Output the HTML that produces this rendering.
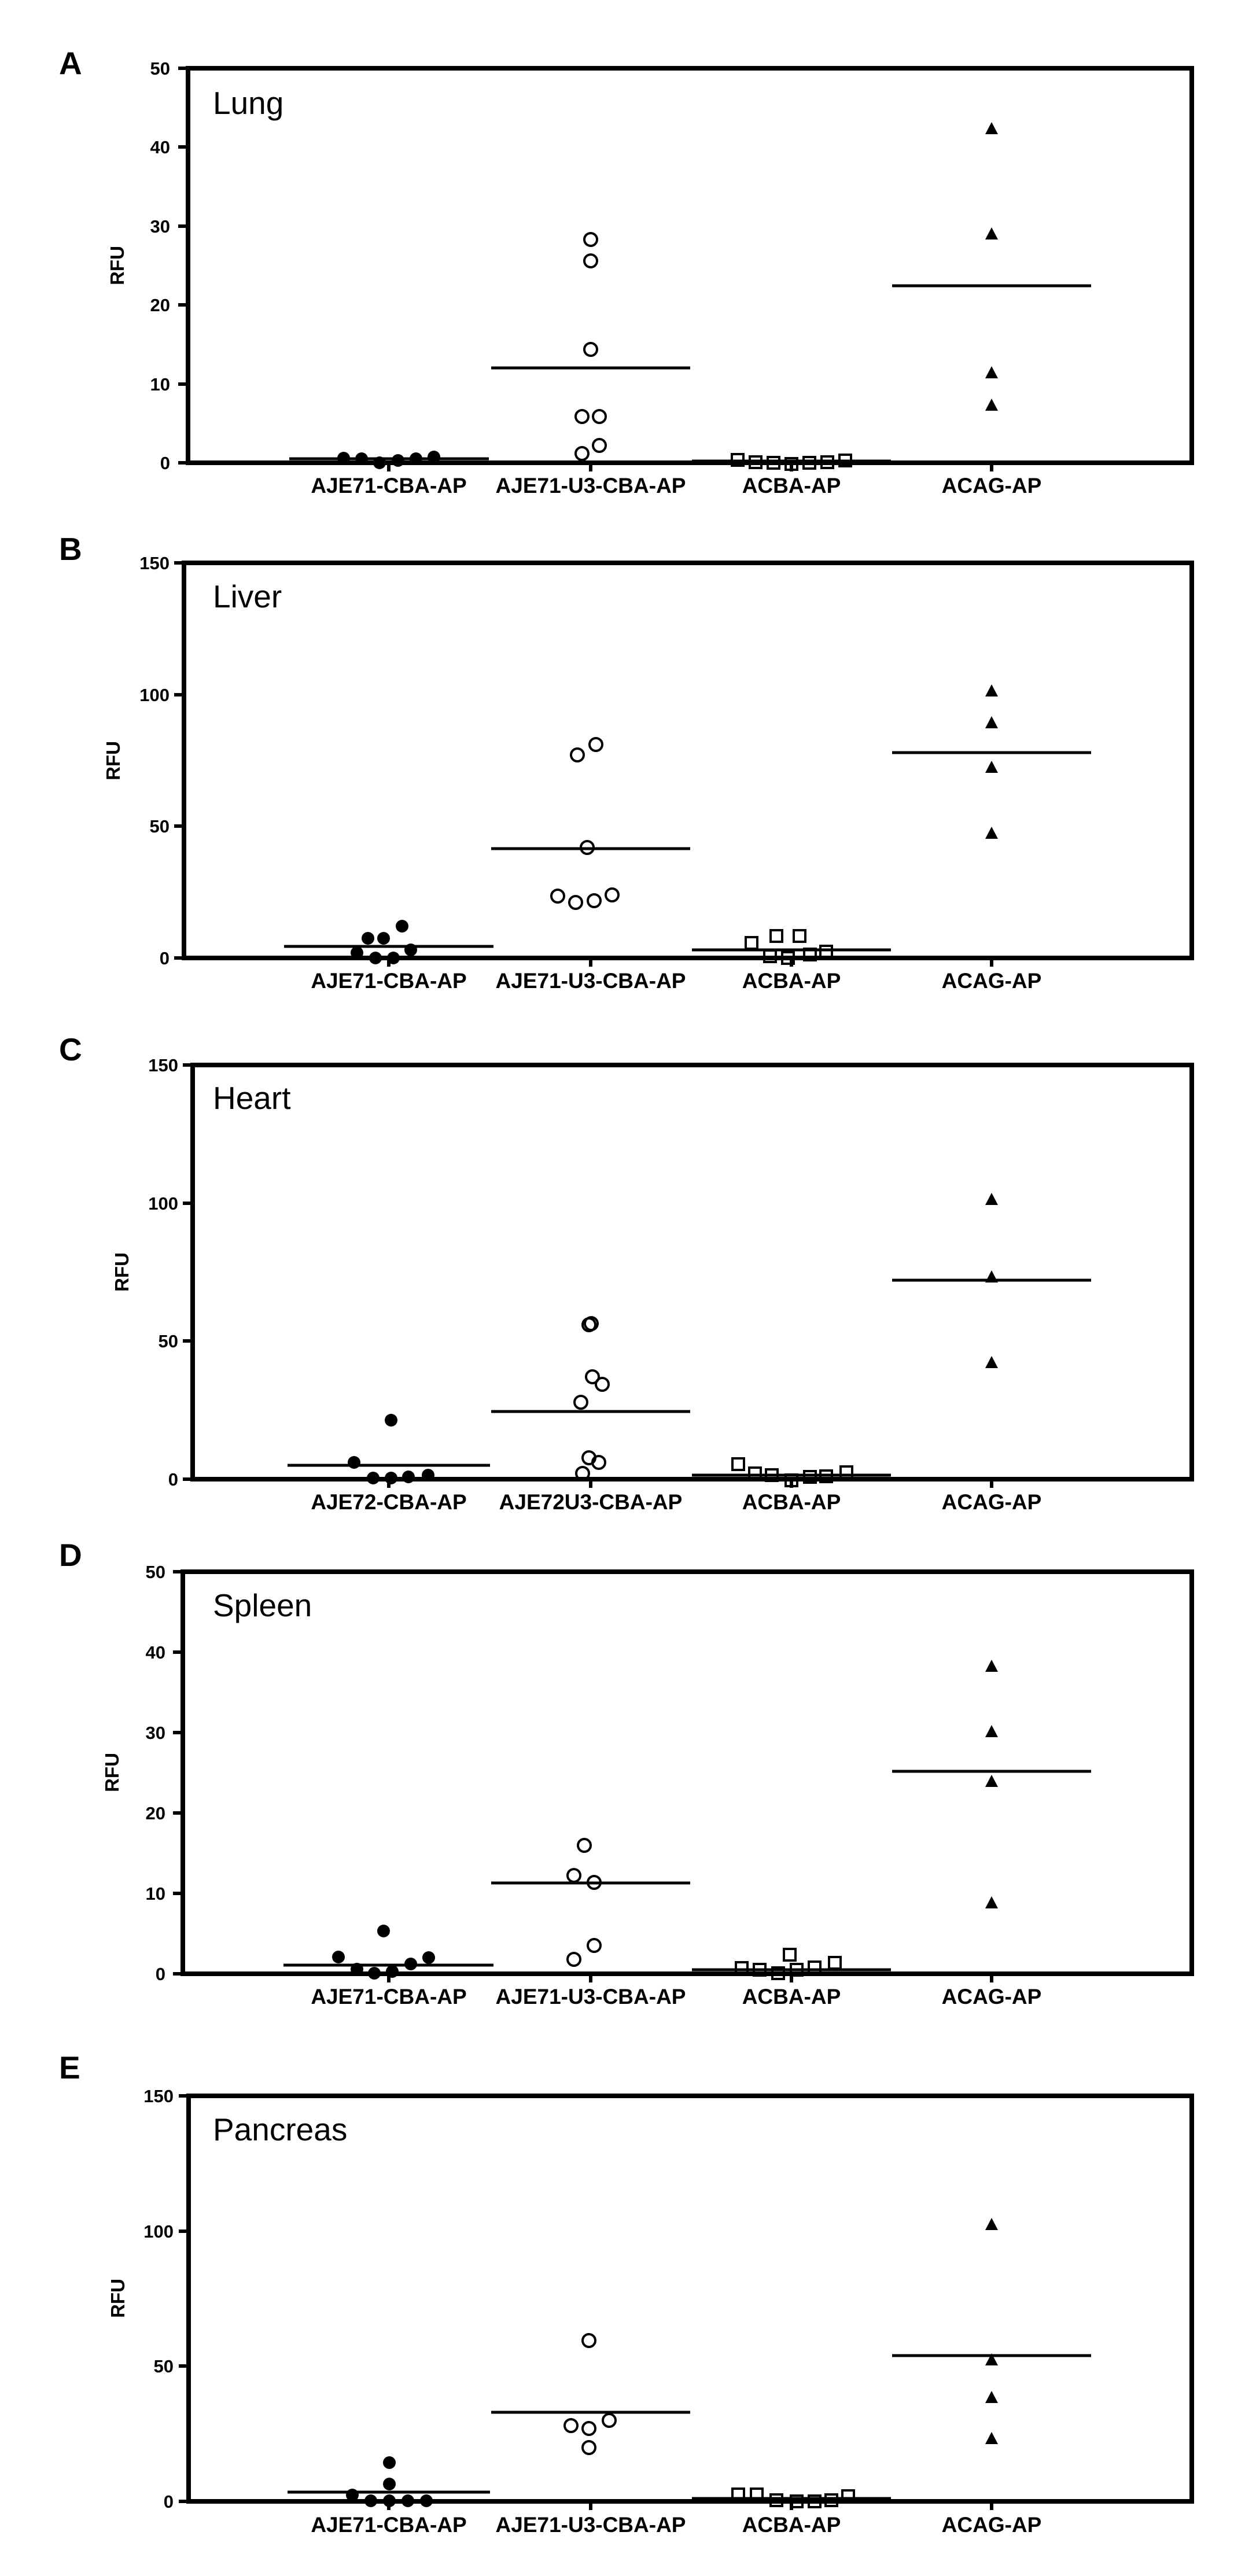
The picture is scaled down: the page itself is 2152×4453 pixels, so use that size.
<!DOCTYPE html>
<html><head><meta charset="utf-8"><style>html,body{margin:0;padding:0;background:#fff}svg{display:block}</style></head>
<body>
<svg width="2152" height="4453" viewBox="0 0 2152 4453" xmlns="http://www.w3.org/2000/svg" font-family="Liberation Sans, Arial, sans-serif">
<defs>
<circle id="f" r="11" fill="#000"/>
<circle id="o" r="11" fill="none" stroke="#000" stroke-width="4"/>
<rect id="s" x="-10" y="-10" width="20" height="20" fill="none" stroke="#000" stroke-width="4"/>
<path id="t" d="M0,-13 L11,8 L-11,8Z" fill="#000"/>
</defs>
<rect width="2152" height="4453" fill="#fff"/>

<!-- ===== PANEL A ===== -->
<g>
<text x="102" y="128" font-size="55" font-weight="bold">A</text>
<rect x="325" y="118" width="1735" height="682" fill="none" stroke="#000" stroke-width="8"/>
<g stroke="#000" stroke-width="6">
<line x1="308" y1="800" x2="325" y2="800"/><line x1="308" y1="664" x2="325" y2="664"/><line x1="308" y1="527" x2="325" y2="527"/><line x1="308" y1="391" x2="325" y2="391"/><line x1="308" y1="254" x2="325" y2="254"/><line x1="308" y1="118" x2="325" y2="118"/>
<line x1="672" y1="800" x2="672" y2="815"/><line x1="1021" y1="800" x2="1021" y2="815"/><line x1="1368" y1="800" x2="1368" y2="815"/><line x1="1714" y1="800" x2="1714" y2="815"/>
</g>
<g font-size="31" font-weight="bold" text-anchor="end">
<text x="294" y="811">0</text><text x="294" y="675">10</text><text x="294" y="538">20</text><text x="294" y="402">30</text><text x="294" y="265">40</text><text x="294" y="129">50</text>
</g>
<text transform="translate(214,459) rotate(-90)" font-size="33" font-weight="bold" text-anchor="middle">RFU</text>
<text x="368" y="197" font-size="55">Lung</text>
<g font-size="37" font-weight="bold" text-anchor="middle">
<text x="672" y="852">AJE71-CBA-AP</text><text x="1021" y="852">AJE71-U3-CBA-AP</text><text x="1368" y="852">ACBA-AP</text><text x="1714" y="852">ACAG-AP</text>
</g>
<g stroke="#000" stroke-width="5">
<line x1="500" y1="793" x2="845" y2="793"/><line x1="849" y1="636" x2="1193" y2="636"/><line x1="1196" y1="797" x2="1540" y2="797"/><line x1="1542" y1="494" x2="1886" y2="494"/>
</g>
<use href="#f" x="594" y="792"/><use href="#f" x="625" y="793"/><use href="#f" x="656" y="800"/><use href="#f" x="688" y="796"/><use href="#f" x="719" y="793"/><use href="#f" x="750" y="790"/>
<use href="#o" x="1021" y="414"/><use href="#o" x="1021" y="451"/><use href="#o" x="1021" y="604"/><use href="#o" x="1006" y="720"/><use href="#o" x="1036" y="720"/><use href="#o" x="1006" y="784"/><use href="#o" x="1036" y="770"/>
<use href="#s" x="1275" y="795"/><use href="#s" x="1306" y="799"/><use href="#s" x="1337" y="800"/><use href="#s" x="1368" y="802"/><use href="#s" x="1399" y="800"/><use href="#s" x="1430" y="799"/><use href="#s" x="1461" y="796"/>
<use href="#t" x="1714" y="224"/><use href="#t" x="1714" y="406"/><use href="#t" x="1714" y="646"/><use href="#t" x="1714" y="702"/>
</g>

<!-- ===== PANEL B ===== -->
<g>
<text x="102" y="968" font-size="55" font-weight="bold">B</text>
<rect x="318" y="973" width="1742" height="683" fill="none" stroke="#000" stroke-width="8"/>
<g stroke="#000" stroke-width="6">
<line x1="301" y1="1656" x2="318" y2="1656"/><line x1="301" y1="1428" x2="318" y2="1428"/><line x1="301" y1="1201" x2="318" y2="1201"/><line x1="301" y1="973" x2="318" y2="973"/>
<line x1="672" y1="1656" x2="672" y2="1671"/><line x1="1021" y1="1656" x2="1021" y2="1671"/><line x1="1368" y1="1656" x2="1368" y2="1671"/><line x1="1714" y1="1656" x2="1714" y2="1671"/>
</g>
<g font-size="31" font-weight="bold" text-anchor="end">
<text x="293" y="1667">0</text><text x="293" y="1439">50</text><text x="293" y="1212">100</text><text x="293" y="984">150</text>
</g>
<text transform="translate(207,1315) rotate(-90)" font-size="33" font-weight="bold" text-anchor="middle">RFU</text>
<text x="368" y="1050" font-size="55">Liver</text>
<g font-size="37" font-weight="bold" text-anchor="middle">
<text x="672" y="1708">AJE71-CBA-AP</text><text x="1021" y="1708">AJE71-U3-CBA-AP</text><text x="1368" y="1708">ACBA-AP</text><text x="1714" y="1708">ACAG-AP</text>
</g>
<g stroke="#000" stroke-width="5">
<line x1="491" y1="1636" x2="853" y2="1636"/><line x1="849" y1="1467" x2="1193" y2="1467"/><line x1="1196" y1="1642" x2="1540" y2="1642"/><line x1="1542" y1="1301" x2="1886" y2="1301"/>
</g>
<use href="#f" x="617" y="1647"/><use href="#f" x="636" y="1622"/><use href="#f" x="649" y="1656"/><use href="#f" x="663" y="1622"/><use href="#f" x="680" y="1656"/><use href="#f" x="695" y="1601"/><use href="#f" x="710" y="1642"/>
<use href="#o" x="964" y="1549"/><use href="#o" x="995" y="1560"/><use href="#o" x="1027" y="1557"/><use href="#o" x="1058" y="1547"/><use href="#o" x="1015" y="1465"/><use href="#o" x="998" y="1305"/><use href="#o" x="1030" y="1287"/>
<use href="#s" x="1299" y="1630"/><use href="#s" x="1342" y="1618"/><use href="#s" x="1382" y="1618"/><use href="#s" x="1331" y="1653"/><use href="#s" x="1362" y="1656"/><use href="#s" x="1400" y="1650"/><use href="#s" x="1428" y="1645"/>
<use href="#t" x="1714" y="1196"/><use href="#t" x="1714" y="1251"/><use href="#t" x="1714" y="1328"/><use href="#t" x="1714" y="1442"/>
</g>

<!-- ===== PANEL C ===== -->
<g>
<text x="102" y="1833" font-size="55" font-weight="bold">C</text>
<rect x="333" y="1841" width="1727" height="716" fill="none" stroke="#000" stroke-width="8"/>
<g stroke="#000" stroke-width="6">
<line x1="316" y1="2557" x2="333" y2="2557"/><line x1="316" y1="2318" x2="333" y2="2318"/><line x1="316" y1="2080" x2="333" y2="2080"/><line x1="316" y1="1841" x2="333" y2="1841"/>
<line x1="672" y1="2557" x2="672" y2="2572"/><line x1="1021" y1="2557" x2="1021" y2="2572"/><line x1="1368" y1="2557" x2="1368" y2="2572"/><line x1="1714" y1="2557" x2="1714" y2="2572"/>
</g>
<g font-size="31" font-weight="bold" text-anchor="end">
<text x="308" y="2568">0</text><text x="308" y="2329">50</text><text x="308" y="2091">100</text><text x="308" y="1852">150</text>
</g>
<text transform="translate(222,2199) rotate(-90)" font-size="33" font-weight="bold" text-anchor="middle">RFU</text>
<text x="368" y="1917" font-size="55">Heart</text>
<g font-size="37" font-weight="bold" text-anchor="middle">
<text x="672" y="2609">AJE72-CBA-AP</text><text x="1021" y="2609">AJE72U3-CBA-AP</text><text x="1368" y="2609">ACBA-AP</text><text x="1714" y="2609">ACAG-AP</text>
</g>
<g stroke="#000" stroke-width="5">
<line x1="497" y1="2533" x2="847" y2="2533"/><line x1="849" y1="2440" x2="1193" y2="2440"/><line x1="1196" y1="2550" x2="1540" y2="2550"/><line x1="1542" y1="2213" x2="1886" y2="2213"/>
</g>
<use href="#f" x="612" y="2528"/><use href="#f" x="645" y="2555"/><use href="#f" x="676" y="2455"/><use href="#f" x="676" y="2555"/><use href="#f" x="706" y="2553"/><use href="#f" x="740" y="2550"/>
<use href="#o" x="1018" y="2290"/><use href="#o" x="1022" y="2288"/><use href="#o" x="1024" y="2380"/><use href="#o" x="1041" y="2393"/><use href="#o" x="1004" y="2424"/><use href="#o" x="1018" y="2520"/><use href="#o" x="1035" y="2528"/><use href="#o" x="1007" y="2547"/>
<use href="#s" x="1276" y="2531"/><use href="#s" x="1305" y="2547"/><use href="#s" x="1334" y="2550"/><use href="#s" x="1368" y="2559"/><use href="#s" x="1400" y="2553"/><use href="#s" x="1428" y="2552"/><use href="#s" x="1463" y="2545"/>
<use href="#t" x="1714" y="2075"/><use href="#t" x="1714" y="2209"/><use href="#t" x="1714" y="2357"/>
</g>

<!-- ===== PANEL D ===== -->
<g>
<text x="102" y="2707" font-size="55" font-weight="bold">D</text>
<rect x="316" y="2717" width="1744" height="695" fill="none" stroke="#000" stroke-width="8"/>
<g stroke="#000" stroke-width="6">
<line x1="299" y1="3412" x2="316" y2="3412"/><line x1="299" y1="3273" x2="316" y2="3273"/><line x1="299" y1="3134" x2="316" y2="3134"/><line x1="299" y1="2995" x2="316" y2="2995"/><line x1="299" y1="2856" x2="316" y2="2856"/><line x1="299" y1="2717" x2="316" y2="2717"/>
<line x1="672" y1="3412" x2="672" y2="3427"/><line x1="1021" y1="3412" x2="1021" y2="3427"/><line x1="1368" y1="3412" x2="1368" y2="3427"/><line x1="1714" y1="3412" x2="1714" y2="3427"/>
</g>
<g font-size="31" font-weight="bold" text-anchor="end">
<text x="286" y="3423">0</text><text x="286" y="3284">10</text><text x="286" y="3145">20</text><text x="286" y="3006">30</text><text x="286" y="2867">40</text><text x="286" y="2728">50</text>
</g>
<text transform="translate(205,3064) rotate(-90)" font-size="33" font-weight="bold" text-anchor="middle">RFU</text>
<text x="368" y="2794" font-size="55">Spleen</text>
<g font-size="37" font-weight="bold" text-anchor="middle">
<text x="672" y="3464">AJE71-CBA-AP</text><text x="1021" y="3464">AJE71-U3-CBA-AP</text><text x="1368" y="3464">ACBA-AP</text><text x="1714" y="3464">ACAG-AP</text>
</g>
<g stroke="#000" stroke-width="5">
<line x1="490" y1="3397" x2="853" y2="3397"/><line x1="849" y1="3255" x2="1193" y2="3255"/><line x1="1196" y1="3405" x2="1540" y2="3405"/><line x1="1542" y1="3062" x2="1886" y2="3062"/>
</g>
<use href="#f" x="585" y="3383"/><use href="#f" x="617" y="3404"/><use href="#f" x="647" y="3411"/><use href="#f" x="663" y="3338"/><use href="#f" x="678" y="3408"/><use href="#f" x="710" y="3395"/><use href="#f" x="741" y="3384"/>
<use href="#o" x="1010" y="3190"/><use href="#o" x="992" y="3242"/><use href="#o" x="1027" y="3254"/><use href="#o" x="1027" y="3363"/><use href="#o" x="992" y="3387"/>
<use href="#s" x="1282" y="3402"/><use href="#s" x="1313" y="3405"/><use href="#s" x="1345" y="3411"/><use href="#s" x="1365" y="3379"/><use href="#s" x="1377" y="3405"/><use href="#s" x="1408" y="3401"/><use href="#s" x="1443" y="3393"/>
<use href="#t" x="1714" y="2882"/><use href="#t" x="1714" y="2995"/><use href="#t" x="1714" y="3081"/><use href="#t" x="1714" y="3291"/>
</g>

<!-- ===== PANEL E ===== -->
<g>
<text x="102" y="3593" font-size="55" font-weight="bold">E</text>
<rect x="326" y="3623" width="1734" height="701" fill="none" stroke="#000" stroke-width="8"/>
<g stroke="#000" stroke-width="6">
<line x1="309" y1="4324" x2="326" y2="4324"/><line x1="309" y1="4090" x2="326" y2="4090"/><line x1="309" y1="3857" x2="326" y2="3857"/><line x1="309" y1="3623" x2="326" y2="3623"/>
<line x1="672" y1="4324" x2="672" y2="4339"/><line x1="1021" y1="4324" x2="1021" y2="4339"/><line x1="1368" y1="4324" x2="1368" y2="4339"/><line x1="1714" y1="4324" x2="1714" y2="4339"/>
</g>
<g font-size="31" font-weight="bold" text-anchor="end">
<text x="300" y="4335">0</text><text x="300" y="4101">50</text><text x="300" y="3868">100</text><text x="300" y="3634">150</text>
</g>
<text transform="translate(215,3973) rotate(-90)" font-size="33" font-weight="bold" text-anchor="middle">RFU</text>
<text x="368" y="3700" font-size="55">Pancreas</text>
<g font-size="37" font-weight="bold" text-anchor="middle">
<text x="672" y="4377">AJE71-CBA-AP</text><text x="1021" y="4377">AJE71-U3-CBA-AP</text><text x="1368" y="4377">ACBA-AP</text><text x="1714" y="4377">ACAG-AP</text>
</g>
<g stroke="#000" stroke-width="5">
<line x1="497" y1="4308" x2="847" y2="4308"/><line x1="849" y1="4170" x2="1193" y2="4170"/><line x1="1196" y1="4319" x2="1540" y2="4319"/><line x1="1542" y1="4072" x2="1886" y2="4072"/>
</g>
<use href="#f" x="609" y="4313"/><use href="#f" x="641" y="4323"/><use href="#f" x="673" y="4257"/><use href="#f" x="673" y="4294"/><use href="#f" x="673" y="4323"/><use href="#f" x="705" y="4323"/><use href="#f" x="737" y="4323"/>
<use href="#o" x="987" y="4193"/><use href="#o" x="1018" y="4198"/><use href="#o" x="1053" y="4184"/><use href="#o" x="1018" y="4231"/><use href="#o" x="1018" y="4046"/>
<use href="#s" x="1276" y="4312"/><use href="#s" x="1308" y="4312"/><use href="#s" x="1342" y="4322"/><use href="#s" x="1377" y="4324"/><use href="#s" x="1408" y="4324"/><use href="#s" x="1437" y="4322"/><use href="#s" x="1466" y="4315"/>
<use href="#t" x="1714" y="3847"/><use href="#t" x="1714" y="4081"/><use href="#t" x="1714" y="4146"/><use href="#t" x="1714" y="4217"/>
</g>
</svg>
</body></html>
